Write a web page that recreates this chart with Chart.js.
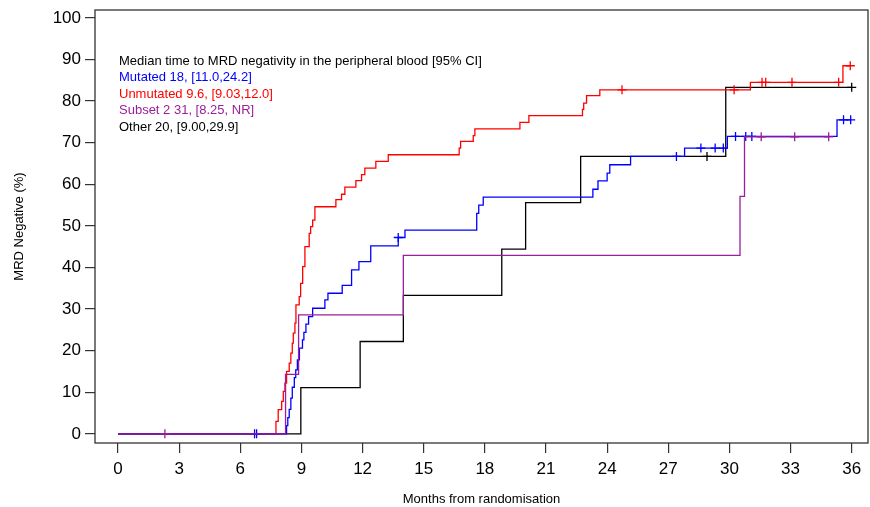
<!DOCTYPE html>
<html><head><meta charset="utf-8">
<script src="https://cdn.jsdelivr.net/npm/chart.js@4.4.1/dist/chart.umd.min.js"></script>
<style>html,body{margin:0;padding:0;background:#fff;}#wrap{width:870px;height:507px;position:relative;}</style>
</head><body><div id="wrap"><canvas id="c" width="870" height="507"></canvas></div>
<script>
// ---- tick labels ----
const xTicks = [0,3,6,9,12,15,18,21,24,27,30,33,36];
const yTicks = [0,10,20,30,40,50,60,70,80,90,100];
const xTitle = "Months from randomisation";
const yTitle = "MRD Negative (%)";
const legendTitle = "Median time to MRD negativity in the peripheral blood [95% CI]";
const seriesNames = ["Mutated 18, [11.0,24.2]", "Unmutated 9.6, [9.03,12.0]", "Subset 2 31, [8.25, NR]", "Other 20, [9.00,29.9]"];

// ---- Mutated (blue) ----
const mutatedTimes  = [0, 8.27, 8.33, 8.40, 8.48, 8.55, 8.65, 8.72, 8.80, 8.90, 9.05, 9.12, 9.22, 9.35, 9.55, 10.15, 10.30, 11.0, 11.46, 11.82, 12.4, 13.75, 14.08, 17.6, 17.7, 17.92, 23.3, 23.55, 24.0, 24.13, 25.15, 27.8, 29.9, 35.28, 35.95];
const mutatedValues = [0, 2.0, 3.9, 5.9, 8.6, 11.2, 13.5, 15.4, 17.8, 20.6, 22.6, 24.4, 26.4, 28.2, 30.2, 32.2, 33.8, 35.7, 39.4, 41.4, 45.2, 47.2, 49.0, 53.0, 55.0, 56.9, 58.8, 60.8, 62.7, 64.7, 66.7, 68.7, 71.5, 75.5, 75.5];
const mutatedCensor = [6.7, 6.8, 13.75, 27.4, 28.6, 29.3, 29.7, 30.3, 30.8, 31.1, 35.6, 35.95];

// ---- Unmutated (red) ----
const unmutatedTimes  = [0, 7.75, 7.86, 8.03, 8.11, 8.19, 8.27, 8.40, 8.48, 8.55, 8.60, 8.68, 8.73, 8.89, 8.96, 9.06, 9.17, 9.38, 9.45, 9.55, 9.66, 10.69, 10.97, 11.13, 11.67, 11.95, 12.11, 12.65, 13.26, 16.74, 16.81, 17.43, 17.51, 19.72, 20.16, 22.79, 22.85, 22.99, 23.64, 31.03, 35.57, 35.93];
const unmutatedValues = [0, 3.0, 5.8, 7.8, 10.2, 12.2, 15.0, 17.0, 19.4, 21.8, 24.2, 26.6, 31.0, 33.0, 36.2, 40.2, 45.0, 48.2, 49.8, 51.4, 54.6, 56.3, 57.6, 59.3, 60.9, 62.3, 63.9, 65.5, 67.1, 68.7, 70.3, 71.7, 73.3, 74.9, 76.5, 78.0, 79.5, 81.3, 82.7, 84.5, 88.5, 88.5];
const unmutatedCensor = [24.73, 30.23, 31.6, 31.78, 33.07, 35.36, 35.93];

// ---- Subset 2 (purple) ----
const subsetTimes  = [0, 8.22, 8.86, 14.0, 30.52, 30.74, 34.87];
const subsetValues = [0, 14.3, 28.6, 42.9, 57.1, 71.4, 71.4];
const subsetCensor = [2.3, 31.56, 33.2, 34.87];

// ---- Other (black) ----
const otherTimes  = [0, 8.97, 11.88, 14.0, 18.83, 20.0, 22.7, 29.82, 36.0];
const otherValues = [0, 11.1, 22.2, 33.3, 44.4, 55.6, 66.7, 83.3, 83.3];
const otherCensor = [28.9, 36.0];

const colMut = '#0000ff', colUnm = '#ff0000', colSub = '#9a1f9a', colOth = '#000000';
const FONT = "'Liberation Sans', Arial, sans-serif";

function pts(t, v){ return t.map((x,i)=>({x:x, y:v[i]})); }
function censorPts(c, t, v){
  return c.map(x=>{ let y=v[0]; for(let i=0;i<t.length;i++){ if(t[i]<=x+1e-9) y=v[i]; } return {x:x, y:y}; });
}
function stepDs(label, t, v, col, order){
  return {type:'line', label, data:pts(t,v), borderColor:col, backgroundColor:col, borderWidth:1.3, stepped:'before', pointRadius:0, fill:false, order};
}
function censDs(label, c, t, v, col, order){
  return {type:'line', label, data:censorPts(c,t,v), showLine:false, borderColor:col, backgroundColor:col, pointStyle:'cross', pointRadius:4.5, pointBorderWidth:1.3, pointBorderColor:col, order};
}

const boxPlugin = {
  id:'box',
  beforeDatasetsDraw(chart){
    const {ctx, chartArea:a} = chart;
    ctx.save(); ctx.strokeStyle='#333'; ctx.lineWidth=1.3;
    ctx.strokeRect(a.left, a.top, a.right-a.left, a.bottom-a.top);
    ctx.restore();
  }
};
const legendPlugin = {
  id:'kmLegend',
  afterDraw(chart){
    const ctx = chart.ctx;
    ctx.save();
    ctx.font = "13px " + FONT; ctx.textBaseline='middle'; ctx.textAlign='left';
    const lines = [legendTitle].concat(seriesNames);
    const cols = ['#000', colMut, colUnm, colSub, '#000'];
    const y0 = 61, dy = 16.5;
    lines.forEach((s,i)=>{ ctx.fillStyle = cols[i]; ctx.fillText(s, 119, y0 + i*dy); });
    ctx.restore();
  }
};

function noPad(s){
  s.paddingTop=0; s.paddingBottom=0; s.paddingLeft=0; s.paddingRight=0;
}

new Chart(document.getElementById('c'), {
  type:'line',
  data:{ datasets:[
    stepDs(seriesNames[2], subsetTimes, subsetValues, colSub, 1),
    censDs('c3', subsetCensor, subsetTimes, subsetValues, colSub, 1),
    stepDs(seriesNames[0], mutatedTimes, mutatedValues, colMut, 2),
    censDs('c1', mutatedCensor, mutatedTimes, mutatedValues, colMut, 2),
    stepDs(seriesNames[1], unmutatedTimes, unmutatedValues, colUnm, 3),
    censDs('c2', unmutatedCensor, unmutatedTimes, unmutatedValues, colUnm, 3),
    stepDs(seriesNames[3], otherTimes, otherValues, colOth, 4),
    censDs('c4', otherCensor, otherTimes, otherValues, colOth, 4)
  ]},
  options:{
    responsive:false, animation:false, devicePixelRatio:1,
    layout:{autoPadding:false, padding:{top:10, right:2, left:0, bottom:0}},
    plugins:{legend:{display:false}, tooltip:{enabled:false}},
    scales:{
      x:{ type:'linear', min:-1.13, max:36.8,
        afterBuildTicks:s=>{ s.ticks = xTicks.map(v=>({value:v})); },
        afterFit:s=>{ s.height = 64; noPad(s); },
        grid:{display:true, drawOnChartArea:false, drawTicks:true, tickLength:10, color:'#333', lineWidth:1.2},
        border:{display:false},
        ticks:{font:{size:17, family:FONT}, color:'#000', padding:6, maxRotation:0, autoSkip:false, callback:v=>String(v)},
        title:{display:true, text:xTitle, font:{size:13, family:FONT}, color:'#000', padding:{top:0,bottom:0}}
      },
      y:{ type:'linear', min:-2.2, max:101.9,
        afterBuildTicks:s=>{ s.ticks = yTicks.map(v=>({value:v})); },
        afterFit:s=>{ s.width = 95; noPad(s); },
        grid:{display:true, drawOnChartArea:false, drawTicks:true, tickLength:10, color:'#333', lineWidth:1.2},
        border:{display:false},
        ticks:{font:{size:17, family:FONT}, color:'#000', padding:4, autoSkip:false, callback:v=>String(v)},
        title:{display:true, text:yTitle, font:{size:13, family:FONT}, color:'#000', padding:{top:12,bottom:0}}
      }
    }
  },
  plugins:[boxPlugin, legendPlugin]
});
</script></body></html>
